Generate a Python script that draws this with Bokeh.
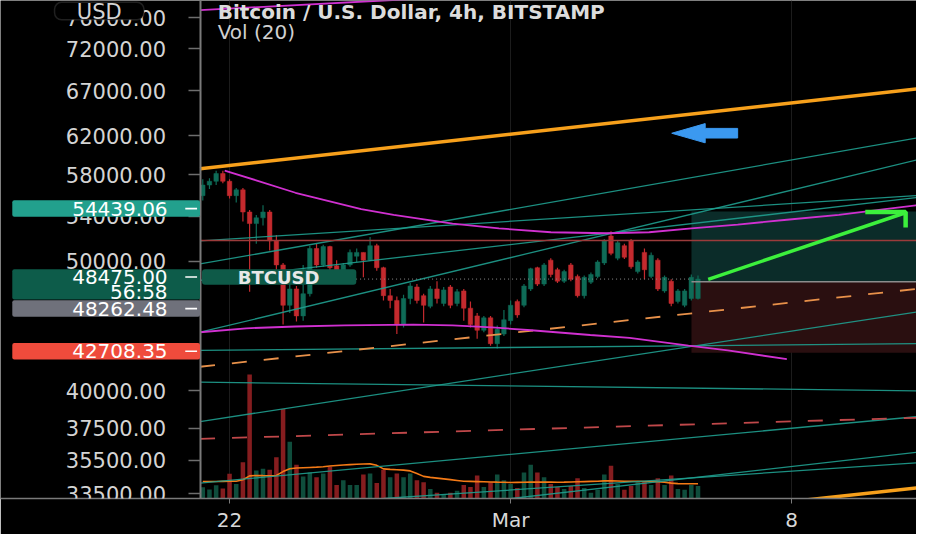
from bokeh.plotting import figure
from bokeh.models import (Range1d, FixedTicker, PrintfTickFormatter, BoxAnnotation,
                          Label, ColumnDataSource, LinearScale)
from bokeh.embed import file_html
from bokeh.resources import INLINE

# ---------------- data ----------------
# x = hours since 2021-02-21 00:00 UTC, 4h candles
t_first = 8
t_step = 4
opens = [55950, 56980, 57350, 58120, 57350, 55950, 56510, 54400, 53330, 53860,
         54400, 51770, 49670, 46340, 47660, 45500, 47270, 51090, 49670, 51260,
         49590, 49100, 49670, 50420, 50750, 50080, 51340, 49430, 47110, 46730,
         44830, 46880, 47820, 47110, 46260, 47660, 46490, 47820, 46490, 47500,
         46110, 45500, 44390, 45350, 43380, 44100, 45130, 46650, 46340, 47660,
         49430, 48060, 50080, 49260, 48300, 49670, 48700, 47110, 48220, 48700,
         49840, 52200, 50250, 51340, 51770, 49100, 50750, 48700, 50080, 47500,
         48300, 46650, 46340, 46880, 46880]
highs = [57540, 57640, 58410, 58410, 57540, 56690, 56690, 54580, 54130, 55030,
         54580, 52280, 49840, 48455, 47900, 49670, 51340, 51510, 51430, 51340,
         50080, 49840, 51000, 51090, 50750, 52110, 51510, 49510, 47660, 47040,
         47190, 48140, 48060, 47270, 47900, 48300, 47820, 47980, 47660, 47660,
         46650, 45730, 45500, 45500, 44760, 45960, 46730, 46800, 48060, 49430,
         49510, 49840, 50250, 49430, 49260, 49840, 48860, 48780, 49020, 50080,
         51940, 52630, 51770, 51510, 51940, 50080, 51090, 50750, 50250, 48780,
         48460, 47660, 47660, 48860, 48780]
lows = [55490, 56600, 56980, 57160, 55670, 55300, 53510, 47430, 51510, 53150,
        50920, 49260, 44830, 45730, 45060, 45130, 47040, 49430, 49510, 49100,
        48860, 48940, 49510, 49920, 48620, 50000, 49180, 46730, 46110, 44100,
        44610, 46420, 46490, 44980, 46110, 46490, 46260, 46110, 46260, 45130,
        44610, 43740, 44240, 43230, 43020, 43950, 44830, 45350, 46190, 47500,
        47900, 47900, 48620, 48140, 48140, 48300, 46960, 46880, 48060, 48540,
        49670, 50500, 50080, 50170, 49340, 48940, 48460, 48540, 47500, 47350,
        46260, 46490, 46190, 46730, 46800]
closes = [56980, 57350, 58120, 57350, 55950, 56510, 54400, 53330, 53860, 54400,
          51770, 49670, 46340, 47660, 45500, 47270, 51090, 49670, 51260, 49430,
          49100, 49670, 50750, 50750, 50080, 51340, 49430, 47110, 46730, 44830,
          46880, 47900, 46730, 46340, 47660, 46880, 47580, 46340, 47430, 46110,
          44830, 44390, 45350, 43380, 44460, 45200, 46340, 45580, 47900, 49340,
          48060, 49670, 48860, 48300, 49100, 48460, 47110, 48620, 48860, 49920,
          51770, 50670, 51600, 50330, 49510, 49920, 49260, 50500, 47660, 48620,
          46490, 47500, 47500, 48620, 48475]
volumes = [1170, 930, 1370, 1030, 2570, 1500, 3770, 12900, 2900, 3100,
           3000, 4300, 9300, 5900, 3500, 2300, 2700, 2200, 2600, 3300,
           1400, 1900, 1400, 1400, 2500, 2600, 1600, 3000, 2200, 2600,
           2200, 2600, 1900, 1700, 1000, 600, 400, 600, 800, 1400,
           1200, 2400, 1200, 1700, 2500, 1900, 1500, 1100, 2700, 3500,
           2700, 2200, 1500, 1200, 1000, 1300, 2100, 1100, 600, 900,
           2500, 3400, 1500, 900, 1300, 1700, 1800, 1400, 2100, 1400,
           2400, 1000, 900, 1400, 1300]
vol_dir = ("gggrrgrrgg" "rrrgrggrgr" "rgggrgrrgr" "ggrrgrgrgr" "rrgrgggrgg"
           "rgrrgrrggg" "grgrrgrgrg" "rgggg")
vol_ma = [1770, 1770, 1770, 1780, 1790, 1800, 1950, 2350, 2400, 2380,
          2370, 2400, 2800, 3100, 3170, 3200, 3230, 3260, 3300, 3380,
          3430, 3480, 3520, 3560, 3590, 3600, 3450, 3080, 3030, 2990,
          2950, 2870, 2600, 2300, 2200, 2120, 2040, 1960, 1880, 1800,
          1780, 1760, 1740, 1720, 1700, 1690, 1670, 1680, 1690, 1700,
          1700, 1700, 1700, 1690, 1700, 1720, 1740, 1760, 1780, 1800,
          1830, 1830, 1820, 1800, 1790, 1780, 1770, 1770, 1760, 1700,
          1600, 1550, 1530, 1530, 1530]

price_ticks = [33500, 35500, 37500, 40000, 50000, 54000, 58000, 62000, 67000, 72000, 76000]
time_ticks = [24, 192, 360]
time_labels = ["22", "Mar", "8"]

# drawings
chart_left = 6.38
chart_right = 434.6
orange_top_t = [chart_left, chart_right]
orange_top_p = [58600, 67215]
orange_low_t = [chart_left, chart_right]
orange_low_p = [29600, 33850]
mag_top_t = [chart_left, 130]
mag_top_p = [76970, 78430]
mag_arc_t = [21.1, 39.9, 63.4, 102.7, 122.1, 157.3, 185.0, 216.1, 249.6, 274.8,
             300.1, 327.7, 357.1, 388.2, 415.8, 434.6]
mag_arc_p = [58410, 57450, 56230, 54670, 54130, 53330, 52890, 52540, 52450, 52540,
             52890, 53240, 53680, 54130, 54670, 55030]
mag_low_t = [chart_left, 34.0, 63.4, 92.7, 133.8, 157.3, 180.8, 204.3, 239.6, 263.1,
             298.3, 321.8, 357.1]
mag_low_p = [44240, 44540, 44680, 44760, 44830, 44760, 44610, 44390, 44030, 43810,
             43230, 42880, 42240]
red_level = 51800
teal_t = [[chart_left, chart_right]] * 3 + [[116.2, chart_right], [192.6, chart_right]] \
         + [[chart_left, chart_right]] * 5
teal_p = [[40600, 40000], [37940, 45810], [34130, 38260], [33240, 35340], [33240, 35990],
          [42880, 43380], [44240, 59480], [49750, 61780], [51770, 55950], [48370, 55760]]
orange_dash_t = [chart_left, chart_right]
orange_dash_p = [41690, 47660]
red_dash_t = [chart_left, chart_right]
red_dash_p = [36830, 38190]
green_arrow_t = [310.1, 427.6]
green_arrow_p = [48455, 54310]
green_head_t = [404.0, 428.1, 428.1]
green_head_p = [54400, 54400, 52980]
blue_arrow_t = [288.3, 308.3, 308.3, 327.7, 327.7, 308.3, 308.3]
blue_arrow_p = [62290, 63330, 62810, 62810, 61780, 61780, 61270]

pos_start = 300.1
pos_end = 440
target_price = 54439.06
entry_price = 48262.48
stop_price = 42708.35
last_price = 48475.00
countdown = "56:58"

# ---------------- figure ----------------
GREEN = "#0f6b57"
RED = "#c42a2e"
TEAL = "#1f9e8f"
FONT = "DejaVu Sans"
W, H = 916, 534
FRAME_H = 503
SX, SY = W / 932, H / 550

p = figure(width=W, height=H, x_range=Range1d(-112.9, chart_right),
           y_range=Range1d(33240, 78260), y_axis_type="log",
           output_backend="svg", toolbar_location=None,
           min_border_left=0, min_border_right=0, min_border_top=0,
           min_border_bottom=H - FRAME_H,
           background_fill_color="#000000", border_fill_color="#000000",
           outline_line_color=None)
p.extra_y_ranges = {"vol": Range1d(0, 51800)}
p.extra_y_scales = {"vol": LinearScale()}

# axes
ya = p.yaxis[0]
ya.fixed_location = chart_left
ya.ticker = FixedTicker(ticks=price_ticks)
ya.formatter = PrintfTickFormatter(format="%.2f")
ya.major_tick_out = 12
ya.major_tick_in = 0
ya.minor_tick_line_color = None
ya.major_label_standoff = 22
ya.axis_line_color = "#7a7a7a"
ya.axis_line_width = 2
ya.major_tick_line_color = "#6e6e6e"
ya.major_tick_line_width = 1.5
ya.major_label_text_font = FONT
ya.major_label_text_font_size = "21px"
ya.major_label_text_color = "#d4d4d4"

xa = p.xaxis[0]
xa.ticker = FixedTicker(ticks=time_ticks)
xa.major_label_overrides = {t: s for t, s in zip(time_ticks, time_labels)}
xa.major_tick_out = 5
xa.major_tick_in = 0
xa.minor_tick_line_color = None
xa.major_label_standoff = 4
xa.axis_line_color = "#7a7a7a"
xa.axis_line_width = 1.5
xa.major_tick_line_color = "#7a7a7a"
xa.major_label_text_font = FONT
xa.major_label_text_font_size = "20px"
xa.major_label_text_color = "#d8d8d8"

p.xgrid.ticker = FixedTicker(ticks=time_ticks)
p.xgrid.grid_line_color = "#1c1c1c"
p.ygrid.grid_line_color = None

# position tool boxes
p.quad(left=[pos_start], right=[pos_end], top=[target_price], bottom=[entry_price],
       fill_color="#0b2c29", line_color=None)
p.quad(left=[pos_start], right=[pos_end], top=[entry_price], bottom=[stop_price],
       fill_color="#2a0f10", line_color=None)

# volume
n = len(closes)
times = [t_first + t_step * i for i in range(n)]
vsrc = ColumnDataSource(dict(t=times, v=volumes,
                             c=["#0f4d3c" if d == "g" else "#851d1f" for d in vol_dir]))
p.vbar(x="t", width=2.7, top="v", bottom=0, source=vsrc, y_range_name="vol",
       fill_color="c", line_color=None)
p.line(times, vol_ma, y_range_name="vol", line_color="#f47a16", line_width=1.6)

# candles
csrc = ColumnDataSource(dict(
    t=times, o=opens, h=highs, l=lows, c=closes,
    top=[max(a, b) for a, b in zip(opens, closes)],
    bot=[min(a, b) for a, b in zip(opens, closes)],
    col=[GREEN if c >= o else RED for o, c in zip(opens, closes)]))
p.segment(x0="t", y0="l", x1="t", y1="h", line_color="col", line_width=1.2, source=csrc)
p.vbar(x="t", width=2.7, top="top", bottom="bot", fill_color="col", line_color="col",
       line_width=0.5, source=csrc)

# drawings
p.multi_line(teal_t, teal_p, line_color=TEAL, line_width=1.3, line_alpha=0.9)
p.line([chart_left, chart_right], [red_level, red_level], line_color="#9b3b3b", line_width=1.5)
p.line(orange_dash_t, orange_dash_p, line_color="#e8914a", line_width=1.8, line_dash="15 17")
p.line(red_dash_t, red_dash_p, line_color="#c0484a", line_width=1.8, line_dash="15 17")
p.line(mag_arc_t, mag_arc_p, line_color="#d030d0", line_width=1.8)
p.line(mag_low_t, mag_low_p, line_color="#d030d0", line_width=1.8)
p.line(mag_top_t, mag_top_p, line_color="#d030d0", line_width=1.8)
p.line(orange_top_t, orange_top_p, line_color="#f7a01b", line_width=3.5)
p.line(orange_low_t, orange_low_p, line_color="#f7a01b", line_width=3.5)
p.line([chart_left, pos_start], [last_price, last_price], line_color="#8a8a8a", line_width=1,
       line_dash="1 3")
p.line([pos_start, pos_end], [entry_price, entry_price], line_color="#8c8c8c", line_width=1.5)
p.line(green_arrow_t, green_arrow_p, line_color="#3cf03c", line_width=3.5)
p.line(green_head_t, green_head_p, line_color="#3cf03c", line_width=4.5)
p.patch(blue_arrow_t, blue_arrow_p, fill_color="#3b99f0", line_color="#3b99f0")

# ---------------- annotations (screen positions) ----------------
def cx(rx):
    return rx * SX

def cy(ry):
    return FRAME_H - ry * SY

def box(l, r, t, b, color, radius=2, border=None):
    p.add_layout(BoxAnnotation(left=cx(l), right=cx(r), top=cy(t), bottom=cy(b),
                               left_units="screen", right_units="screen",
                               top_units="screen", bottom_units="screen",
                               fill_color=color, fill_alpha=1.0,
                               line_color=border, line_width=1.5,
                               border_radius=radius, level="annotation"))

def txt(x, y, s, size="20px", color="#ffffff", align="right", style="normal"):
    p.add_layout(Label(x=cx(x), y=cy(y), x_units="screen", y_units="screen", text=s,
                       text_font=FONT, text_font_size=size, text_color=color,
                       text_align=align, text_baseline="middle", text_font_style=style))

# title
txt(221, 17, "Bitcoin / U.S. Dollar, 4h, BITSTAMP", size="20px", color="#dcdcdc",
    align="left", style="bold")
txt(221, 38, "Vol (20)", size="20px", color="#d0d0d0", align="left")

# USD badge
box(55, 146, 7, 25, "#000000", radius=7, border="#6a6a6a")
txt(100.5, 16.5, "USD", size="21px", color="#d4d4d4", align="center")

# price badges on the axis
box(12, 203, 211, 228, "#22a08d")
txt(170, 219.5, "%.2f" % target_price)
box(12, 203, 282, 313, "#0d5c4a")
txt(170, 290, "%.2f" % last_price)
txt(170, 305, countdown)
box(12, 203, 314, 331, "#6f717b")
txt(170, 322.5, "%.2f" % entry_price)
box(12, 203, 358, 375, "#ef4b3c")
txt(170, 366.5, "%.2f" % stop_price)
for yc in (219.5, 290, 322.5, 366.5):
    box(188, 200, yc - 0.8, yc + 0.8, "#ffffff", radius=0)

# BTCUSD label in the chart
box(205, 362, 282, 298, "#0e5a48", radius=3)
txt(283, 290, "BTCUSD", size="18px", color="#e8e8e8", align="center", style="bold")

open("out.html", "w").write(file_html(p, INLINE))
